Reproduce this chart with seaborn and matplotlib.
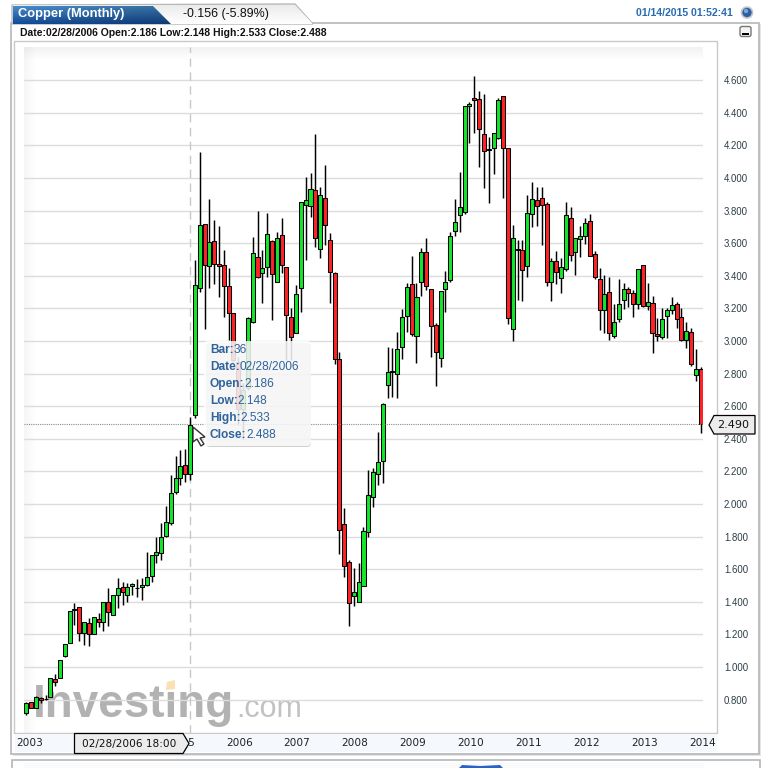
import numpy as np
import pandas as pd
import matplotlib
matplotlib.use("Agg")
import matplotlib.pyplot as plt
from matplotlib.patches import Polygon, Rectangle, FancyBboxPatch, Circle
import seaborn as sns

opens = [.721,.785,.746,.809,.803,.816,.926,.932,1.069,1.147,1.351,1.368,1.208,1.270,1.202,1.292,1.276,1.398,1.317,1.441,
 1.494,1.441,1.499,1.488,1.490,1.503,1.556,1.687,1.699,1.807,1.883,2.073,2.159,2.237,2.186,2.545,3.324,3.720,3.461,3.616,
 3.471,3.469,3.336,3.170,2.874,2.585,2.712,3.119,3.518,3.416,3.452,3.612,3.365,3.649,3.452,3.150,3.048,3.324,3.837,3.827,
 3.929,3.563,3.880,3.618,3.416,2.892,1.876,1.643,1.438,1.398,1.496,1.827,2.042,2.183,2.263,2.729,2.811,2.796,2.962,3.152,
 3.352,3.029,3.360,3.544,3.322,3.097,2.894,3.317,3.373,3.677,3.771,3.790,4.440,4.493,4.487,4.268,4.174,4.182,4.248,4.501,
 4.182,3.072,3.561,3.557,3.458,3.782,3.863,3.876,3.839,3.361,3.490,3.385,3.441,3.753,3.549,3.625,3.643,3.735,3.533,3.379,
 3.189,3.300,3.030,3.134,3.250,3.318,3.293,3.226,3.465,3.214,3.232,3.046,3.023,3.156,3.189,3.226,3.146,3.005,3.054,2.790,2.827]
highs = [.785,.785,.82,.815,.83,.935,.957,1.042,1.141,1.343,1.392,1.368,1.276,1.30,1.308,1.331,1.398,1.484,1.441,1.546,
 1.52,1.515,1.515,1.542,1.546,1.705,1.685,1.801,1.883,1.989,2.18,2.298,2.333,2.339,2.533,3.497,4.158,3.720,3.870,3.743,
 3.706,3.559,3.446,3.170,2.90,2.74,3.150,3.636,3.798,3.559,3.788,3.62,3.671,3.753,3.452,3.201,3.344,3.851,4.009,4.033,
 4.270,3.947,4.080,3.661,3.425,2.935,1.974,1.655,1.606,1.637,1.862,2.209,2.22,2.445,2.62,2.966,2.956,3.058,3.195,3.354,
 3.522,3.358,3.569,3.630,3.322,3.11,3.305,3.430,3.667,3.870,4.039,4.445,4.465,4.626,4.536,4.516,4.250,4.274,4.490,4.501,
 4.182,3.712,3.620,3.620,3.896,3.978,3.943,3.947,3.855,3.508,3.553,3.508,3.852,3.825,3.631,3.706,3.753,3.780,3.553,3.447,
 3.406,3.391,3.228,3.379,3.355,3.330,3.314,3.441,3.465,3.359,3.277,3.140,3.201,3.201,3.273,3.242,3.201,3.120,3.079,2.950,2.840]
lows = [.707,.748,.746,.779,.80,.816,.881,.932,1.06,1.147,1.259,1.161,1.135,1.13,1.202,1.245,1.222,1.253,1.317,1.362,
 1.382,1.398,1.443,1.427,1.409,1.495,1.525,1.638,1.654,1.80,1.87,2.06,2.118,2.133,2.148,2.53,3.30,3.072,3.324,3.350,
 3.272,3.15,3.007,2.87,2.485,2.40,2.70,3.109,3.385,3.236,3.395,3.129,3.365,3.416,2.884,2.884,3.048,3.18,3.497,3.759,
 3.575,3.512,3.59,3.236,2.860,1.694,1.551,1.252,1.377,1.398,1.496,1.796,1.984,2.117,2.132,2.649,2.659,2.649,2.888,3.058,
 3.031,2.863,3.276,3.313,2.900,2.726,2.843,3.180,3.36,3.647,3.671,3.78,4.213,4.274,4.070,3.937,3.849,4.023,4.24,3.876,
 3.103,3.002,3.252,3.248,3.395,3.702,3.708,3.590,3.340,3.246,3.349,3.297,3.43,3.494,3.406,3.518,3.594,3.522,3.381,3.066,
 3.052,3.007,3.02,3.12,3.195,3.212,3.146,3.195,3.21,3.191,2.929,2.999,3.015,3.017,3.165,3.083,3.00,2.960,2.85,2.758,2.434]
closes = [.779,.748,.816,.797,.807,.932,.908,1.042,1.141,1.343,1.355,1.208,1.276,1.202,1.308,1.276,1.398,1.341,1.441,1.484,
 1.458,1.494,1.509,1.484,1.503,1.552,1.685,1.709,1.801,1.893,2.071,2.157,2.231,2.184,2.488,3.342,3.714,3.465,3.610,3.473,
 3.461,3.336,3.170,2.884,2.581,2.70,3.140,3.538,3.391,3.450,3.655,3.410,3.630,3.469,3.158,3.027,3.287,3.851,3.863,3.935,
 3.630,3.894,3.714,3.426,2.888,1.841,1.620,1.391,1.459,1.524,1.837,2.054,2.195,2.257,2.612,2.809,2.815,2.950,3.146,3.330,
 3.045,3.268,3.544,3.336,3.094,2.935,3.305,3.360,3.643,3.733,3.820,4.440,4.452,4.477,4.299,4.164,4.178,4.274,4.477,4.187,
 3.144,3.630,3.565,3.434,3.788,3.870,3.827,3.833,3.361,3.490,3.422,3.453,3.772,3.526,3.631,3.643,3.723,3.522,3.396,3.189,
 3.287,3.048,3.115,3.226,3.318,3.293,3.230,3.441,3.218,3.238,3.048,3.030,3.134,3.189,3.220,3.134,3.005,3.060,2.858,2.827,2.490]

price_ticks = [0.8,1.0,1.2,1.4,1.6,1.8,2.0,2.2,2.4,2.6,2.8,3.0,3.2,3.4,3.6,3.8,4.0,4.2,4.4,4.6]
year_labels = ["2003","2005","2006","2007","2008","2009","2010","2011","2012","2013","2014"]
year_bars = [0.8,32.3,44.2,56.2,68.2,80.2,92.3,104.3,116.3,128.3,140.3]
hover_bar = 34
hover_price = 2.49

W, H = 784, 768
sns.set_theme(style="white")
plt.rcParams['font.family'] = ['Liberation Sans', 'DejaVu Sans']
fig = plt.figure(figsize=(W/100, H/100), dpi=100, facecolor="white")

bg = fig.add_axes([0,0,1,1], zorder=0); bg.set_xlim(0,W); bg.set_ylim(H,0); bg.axis("off")
fg = fig.add_axes([0,0,1,1], zorder=3); fg.set_xlim(0,W); fg.set_ylim(H,0); fg.axis("off"); fg.patch.set_alpha(0)

# panel chrome
BORDER = "#b4b8bb"
bg.add_patch(Rectangle((13,24),748,732,fc="#e6e6e6",ec="none"))
bg.add_patch(Rectangle((11,23),748,731,fc="white",ec=BORDER,lw=1.2))
bg.add_patch(Polygon([(12,24),(12,5),(295,4),(313,24)],closed=True,fc="#f1f1f1",ec=BORDER,lw=1))
grad = np.linspace(0,1,24).reshape(-1,1)
im = bg.imshow(np.dstack([np.interp(grad,[0,1],[235,255])/255]*3),extent=(13,312,24,5),aspect="auto",zorder=1)
im.set_clip_path(Polygon([(13,24),(13,5),(295,5),(313,24)],closed=True,transform=bg.transData))
blue = np.zeros((24,160,3))
for k,(a,b) in enumerate(zip([74,144,205],[20,75,150])):
    blue[:,:,k] = np.interp(np.arange(24),[0,23],[a,b])[:,None]/255*np.linspace(1,.78,160)[None,:]
im2 = bg.imshow(blue,extent=(13,172,24,5),aspect="auto",zorder=2)
im2.set_clip_path(Polygon([(13,24),(13,6),(153,6),(171,24)],closed=True,transform=bg.transData))
bg.set_xlim(0,W); bg.set_ylim(H,0)
bg.add_patch(Rectangle((14,41),703.5,692,fc="white",ec="#c9c9c9",lw=1,zorder=3))
bg.add_patch(Rectangle((15,733.5),702,18,fc="#f5f8fd",ec="none",zorder=3))
# plot-area soft shading along top and left edges
shade_top = np.ones((14,1,4))*np.array([.5,.5,.5,0]); shade_top[:,:,3] = np.linspace(.10,0,14)[:,None]
bg.imshow(shade_top,extent=(24,703,61,47),aspect="auto",zorder=4)
shade_left = np.ones((1,12,4))*np.array([.5,.5,.5,0]); shade_left[:,:,3] = np.linspace(.07,0,12)[None,:]
bg.imshow(shade_left,extent=(24,36,733,47),aspect="auto",zorder=4)
bg.set_xlim(0,W); bg.set_ylim(H,0)
# lower panel peeking in at the bottom edge
bg.add_patch(Rectangle((12,760),748,20,fc="white",ec=BORDER,lw=1.2,zorder=3))
bg.add_patch(Rectangle((24,763),680,10,fc="#fafafa",ec="none",zorder=3))
bg.add_patch(Polygon([(459,768),(462,765),(480,766),(500,765),(503,768)],closed=True,fc="#2a62c8",ec="none",zorder=4))

# watermark
bg.text(33,717,"Investing",fontsize=33,fontweight="bold",color="#b2b2b2",family="Liberation Sans",va="baseline",ha="left",zorder=5)
bg.text(236,717,".com",fontsize=22,color="#c2c2c2",family="Liberation Sans",va="baseline",ha="left",zorder=5)
bg.add_patch(Polygon([(167,682),(175,680),(175,689),(166,690)],closed=True,fc="#fbe0b4",ec="none",zorder=6))

# header text
bg.text(18,14.5,"Copper (Monthly)",color="white",fontsize=9.3,fontweight="bold",va="center",zorder=6)
bg.text(183,14,"-0.156 (-5.89%)",color="#111111",fontsize=8.9,va="center",zorder=6)
bg.text(20,32.5,"Date:02/28/2006 Open:2.186 Low:2.148 High:2.533 Close:2.488",color="#111111",fontsize=7.5,
        fontweight="bold",va="center",zorder=6,family="Liberation Sans")
bg.text(636,13.5,"01/14/2015 01:52:41",color="#2a6cb0",fontsize=7.6,fontweight="bold",va="center",zorder=6)
bg.add_patch(Circle((747,12.5),5.5,fc="#2f5f9f",ec="#c4c8cc",lw=1.2,zorder=6))
bg.add_patch(Circle((746,11),2.2,fc="#7ea6d8",ec="none",zorder=7))
bg.add_patch(FancyBboxPatch((740,26.5),11,10,boxstyle="round,pad=0,rounding_size=2",fc="#f4f4f4",ec="#777777",lw=1,zorder=6))
bg.add_patch(Rectangle((742,33),7,2,fc="black",ec="none",zorder=7))

# main chart
L,R,T,B = 24,703,47,732.7
ax = fig.add_axes([L/W,1-B/H,(R-L)/W,(B-T)/H],zorder=1)
ax.patch.set_alpha(0)
bars = np.arange(len(opens))
frame = pd.DataFrame({"bar":bars,"open":opens,"high":highs,"low":lows,"close":closes})
wicks = frame.melt(id_vars="bar",value_vars=["high","low"],value_name="price").sort_values("bar")
sns.lineplot(data=wicks,x="bar",y="price",units="bar",estimator=None,sort=False,color="black",
             linewidth=1.05,legend=False,ax=ax,zorder=3,solid_capstyle="butt")
body_bottom = frame[["open","close"]].min(axis=1)
body_height = (frame["close"]-frame["open"]).abs()
colors = np.where(frame["close"]>=frame["open"],"#14e62a","#ff2226")
ax.bar(frame["bar"],body_height,bottom=body_bottom,width=.84,color=colors,edgecolor="black",linewidth=.75,zorder=4)

ax.set_xlim(-0.477,140.48); ax.set_ylim(0.5975,4.804)
ax.set_yticks(price_ticks); ax.set_yticklabels([f"{p:.3f}" for p in price_ticks])
ax.yaxis.tick_right()
ax.set_xticks(year_bars); ax.set_xticklabels(year_labels)
ax.tick_params(axis="y",length=0,pad=15,labelsize=6.9,labelcolor="#2b3d45")
ax.tick_params(axis="x",length=0,pad=3.5,labelsize=7.6,labelcolor="#222222")
for t in ax.get_xticklabels(): t.set_family("DejaVu Sans")
for t in ax.get_yticklabels(): t.set_family("Liberation Sans")
ax.set_xlabel(""); ax.set_ylabel("")
ax.grid(axis="y",color="#dcdcdc",lw=1.0,zorder=0); ax.grid(axis="x",visible=False); ax.set_axisbelow(True)
for s in ax.spines.values(): s.set_visible(False)
# crosshair
ax.axvline(hover_bar,color="#c8c8c8",lw=1,ls=(0,(6,4)),zorder=2)
ax.axhline(hover_price,color="#8a8a8a",lw=.8,ls=(0,(1,1)),zorder=5)

# tooltip
fg.add_patch(FancyBboxPatch((206,343),105,104,boxstyle="round,pad=0,rounding_size=4",fc="#777777",ec="none",alpha=.35))
fg.add_patch(FancyBboxPatch((204,341),107,105,boxstyle="round,pad=0,rounding_size=4",fc="white",ec="none",alpha=.82))
tip_keys = ["Bar:","Date:","Open:","Low:","High:","Close:"]
tip_vals = ["36","02/28/2006","2.186","2.148","2.533","2.488"]
rend = fig.canvas.get_renderer()
for i,(k,v) in enumerate(zip(tip_keys,tip_vals)):
    y = 350+i*17
    t = fg.text(210,y,k,color="#2f639c",fontsize=8.6,fontweight="bold",va="center")
    x1 = fg.transData.inverted().transform(t.get_window_extent(rend).get_points())[1,0]
    fg.text(x1,y,v,color="#2f639c",fontsize=8.6,va="center")
# cursor
fg.add_patch(Polygon([(193,427),(193,442),(197,439),(201,446),(204,444),(200,438),(205,437)],closed=True,fc="white",ec="#333333",lw=1))
# hover date tag and last value tag
fg.add_patch(Polygon([(74.5,733.5),(183,733.5),(189,743.5),(183,753.5),(74.5,753.5)],closed=True,fc="#ececec",ec="black",lw=.9))
fg.text(82,743.5,"02/28/2006 18:00",fontsize=7.6,color="#111111",family="DejaVu Sans",va="center")
fg.add_patch(Polygon([(709,425),(714,415.5),(755,415.5),(755,434),(714,434)],closed=True,fc="#ececec",ec="black",lw=.9))
fg.text(717,425,"2.490",fontsize=8,color="#111111",family="DejaVu Sans",va="center")

fig.savefig("out.png",dpi=100)
